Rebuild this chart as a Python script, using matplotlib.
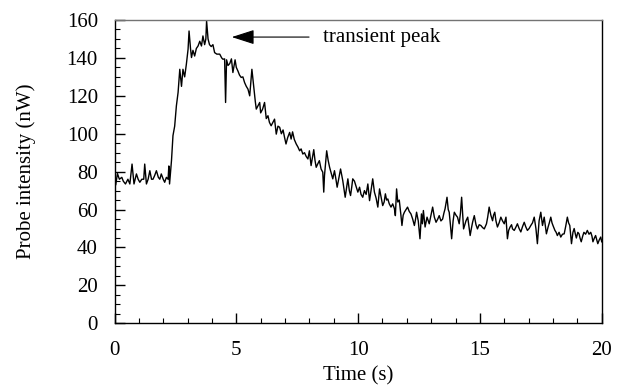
import numpy as np
import matplotlib.pyplot as plt

plt.rcParams['font.family'] = ['Liberation Serif', 'DejaVu Serif']

# probe intensity trace
time_s = [
    0.0, 0.05, 0.12, 0.2, 0.3, 0.36, 0.45, 0.55, 0.63, 0.72, 0.8, 0.9, 0.97, 1.04, 1.12, 1.2, 1.24,
    1.31, 1.38, 1.45, 1.52, 1.58, 1.65, 1.72, 1.8, 1.86, 1.92, 2.0, 2.06, 2.13, 2.2, 2.23, 2.26,
    2.3, 2.34, 2.4, 2.47, 2.54, 2.61, 2.68, 2.75, 2.81, 2.88, 2.95, 3.02, 3.06, 3.12, 3.16, 3.22,
    3.29, 3.36, 3.43, 3.5, 3.57, 3.63, 3.7, 3.75, 3.78, 3.84, 3.9, 3.97, 4.04, 4.11, 4.2, 4.32,
    4.4, 4.45, 4.52, 4.56, 4.6, 4.66, 4.73, 4.8, 4.86, 4.95, 5.0, 5.07, 5.13, 5.2, 5.27, 5.34,
    5.41, 5.48, 5.55, 5.64, 5.72, 5.78, 5.82, 5.9, 5.96, 6.0, 6.08, 6.16, 6.23, 6.3, 6.36, 6.43,
    6.5, 6.57, 6.64, 6.71, 6.78, 6.85, 6.92, 6.98, 7.04, 7.11, 7.19, 7.25, 7.31, 7.38, 7.46, 7.53,
    7.6, 7.66, 7.73, 7.8, 7.87, 7.94, 8.0, 8.07, 8.12, 8.18, 8.23, 8.28, 8.34, 8.41, 8.48, 8.55,
    8.59, 8.62, 8.66, 8.71, 8.77, 8.83, 8.9, 8.96, 9.03, 9.09, 9.14, 9.2, 9.28, 9.33, 9.37, 9.42,
    9.47, 9.53, 9.58, 9.64, 9.69, 9.74, 9.78, 9.85, 9.92, 9.99, 10.06, 10.12, 10.19, 10.26, 10.33,
    10.4, 10.47, 10.53, 10.6, 10.67, 10.74, 10.81, 10.88, 10.95, 11.01, 11.07, 11.12, 11.17, 11.22,
    11.28, 11.35, 11.42, 11.49, 11.53, 11.58, 11.63, 11.69, 11.75, 11.8, 11.85, 11.9, 11.97, 12.03,
    12.1, 12.17, 12.24, 12.31, 12.36, 12.4, 12.47, 12.54, 12.6, 12.64, 12.68, 12.75, 12.83, 12.92,
    12.99, 13.06, 13.13, 13.2, 13.27, 13.33, 13.4, 13.47, 13.52, 13.57, 13.65, 13.7, 13.74, 13.79,
    13.84, 13.9, 13.95, 14.02, 14.08, 14.15, 14.2, 14.25, 14.29, 14.33, 14.38, 14.43, 14.5, 14.55,
    14.6, 14.65, 14.7, 14.77, 14.84, 14.9, 14.97, 15.04, 15.11, 15.18, 15.27, 15.32, 15.38, 15.45,
    15.52, 15.56, 15.61, 15.66, 15.72, 15.79, 15.86, 15.93, 16.0, 16.07, 16.13, 16.18, 16.24, 16.3,
    16.34, 16.41, 16.48, 16.54, 16.61, 16.68, 16.75, 16.82, 16.88, 16.95, 17.02, 17.09, 17.16,
    17.23, 17.3, 17.36, 17.43, 17.5, 17.57, 17.64, 17.68, 17.73, 17.8, 17.85, 17.91, 17.96, 18.0,
    18.08, 18.13, 18.18, 18.25, 18.32, 18.39, 18.46, 18.52, 18.59, 18.64, 18.69, 18.76, 18.82,
    18.87, 18.92, 18.96, 19.02, 19.07, 19.11, 19.16, 19.22, 19.27, 19.34, 19.41, 19.48, 19.55,
    19.6, 19.64, 19.7, 19.75, 19.8, 19.84, 19.9, 19.96, 20.0,
]
intensity_nw = [
    75, 73, 79, 76, 77, 75, 73.5, 76, 73.5, 84, 73.5, 78.8, 76, 74.4, 76, 76, 84,
    73.5, 76, 80.5, 76, 76, 78, 80.5, 77, 76, 78.8, 76, 74.4, 77, 76, 83, 73.5,
    80, 86, 99, 104, 114.7, 121.8, 134, 125, 134, 130, 136.7, 144.6, 154.2, 145, 140.2, 144,
    141, 145, 146.3, 148.8, 146.3, 151.6, 147, 150, 159.5, 150, 147, 146, 147, 142.8, 142, 142,
    140, 139.3, 139.5, 116.5, 139, 136, 137, 139.5, 132.3, 139, 135, 133, 131, 129.7, 130, 127,
    125, 123.5, 120, 134, 124, 117, 113, 115, 116.5, 111, 113, 116.5, 108, 109.5, 106, 104.2,
    106, 107.7, 99.8, 104, 103.4, 100, 102, 98.1, 94.6, 98, 100.7, 97.2, 101, 97, 94.6, 93,
    91, 92, 89.3, 90, 88, 86.7, 91, 83.2, 87, 91.6, 86, 82.3, 84, 85.8, 81.4, 79.7,
    69.2, 77.9, 84, 91, 86, 82.3, 79, 76.2, 80.5, 76, 71.8, 76, 81.4, 78, 75.3, 71,
    66.5, 72, 76.2, 70, 67.4, 72, 76.2, 75, 72, 69.2, 71.8, 68, 66.5, 70, 68,
    73.5, 64.7, 70, 76.2, 69.2, 66, 61.3, 70.9, 66, 62.1, 64, 68.3, 65, 65.6,
    63, 61.3, 63, 60.5, 56.8, 70.9, 64, 65, 58, 51.6, 57, 58.6, 60, 61.3,
    59, 57.7, 55, 51.6, 55, 58.6, 54, 44.6, 57.7, 52.5, 59.5, 50.8, 56, 52.5,
    57, 61.3, 56, 53.3, 55, 56.8, 54, 55, 58, 60.4, 66.5, 60, 58.6, 52,
    44.6, 54, 58.6, 57, 56, 52.5, 58, 66.5, 58, 49.8, 52, 54.1, 56, 51,
    46.3, 50, 53.3, 56.8, 52, 49.8, 52, 51.6, 50.5, 49.8, 52.5, 56, 61.3, 57,
    54.1, 57, 58.6, 54, 50.8, 53, 56, 54, 52.5, 56, 44.6, 49, 50.8, 52,
    49.8, 49, 50.8, 52.5, 50, 48.2, 51, 53.3, 51, 49, 50, 51.6, 53,
    56, 50, 42, 54, 58.6, 51.6, 56, 52, 47.2, 50.8, 53, 56, 53, 51.6,
    49, 48, 46.3, 48, 45.5, 47, 47.2, 51, 56, 53, 51.6, 42, 48,
    50, 47, 45, 48, 47.2, 45, 43, 46, 48, 47, 49, 47, 48,
    46, 43, 45, 46.3, 44, 42, 44, 45.5, 43,
]

fig = plt.figure(figsize=(6.23, 3.87), dpi=100)
ax = fig.add_axes([0.1838, 0.1646, 0.782, 0.7837])

ax.plot(time_s, intensity_nw, color='black', linewidth=1.0)

ax.set_xlim(0, 20)
ax.set_ylim(0, 160)
ax.set_xticks([0, 5, 10, 15, 20])
ax.set_xticks(np.arange(0, 21, 1), minor=True)
ax.set_yticks(np.arange(0, 161, 20))
ax.set_yticks(np.arange(0, 161, 5), minor=True)
ax.tick_params(which='both', direction='in', top=False, right=False, labelsize=15)
ax.tick_params(which='major', length=7.5, width=1)
ax.tick_params(which='minor', length=3.6, width=0.8)
ax.tick_params(axis='x', which='major', pad=13)
ax.tick_params(axis='y', which='major', pad=12)
for s in ax.spines.values():
    s.set_linewidth(1)
ax.spines['top'].set_color('0.45')

ax.set_xlabel('Time (s)', fontsize=15)
ax.set_ylabel('Probe intensity (nW)', fontsize=15)
ax.xaxis.set_label_coords(0.5, -0.143)
ax.yaxis.set_label_coords(-0.162, 0.5)

ax.annotate('', xy=(4.7, 151), xytext=(8.1, 151),
            arrowprops=dict(arrowstyle='-|>,head_length=1.4,head_width=0.45',
                            color='black', lw=0.8, mutation_scale=10))
ax.text(8.55, 151, 'transient peak', fontsize=15, va='center', ha='left')

fig.savefig('out.png', dpi=100)
